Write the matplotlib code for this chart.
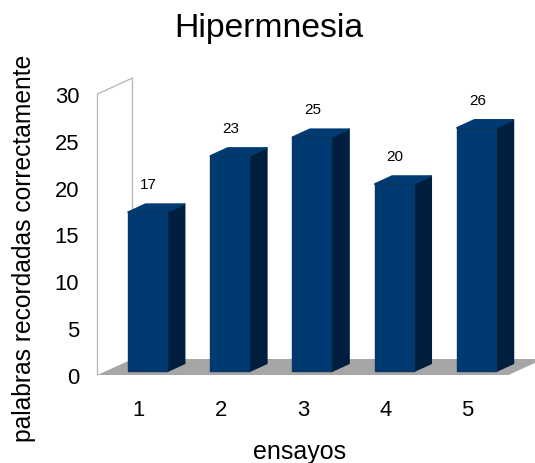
import matplotlib
matplotlib.use("Agg")
import matplotlib.pyplot as plt
from matplotlib.patches import Polygon

plt.rcParams["font.family"] = ["Liberation Sans", "DejaVu Sans"]

W, H = 535, 464
trials = [1, 2, 3, 4, 5]
words = [17, 23, 25, 20, 26]
y_ticks = [0, 5, 10, 15, 20, 25, 30]

FRONT = "#003a72"
SIDE = "#001f3e"
EDGE = "#0b3560"
FLOOR = "#a6a6a6"
WALL = "#b4b4b4"

fig = plt.figure(figsize=(W / 100, H / 100), dpi=100)
ax = fig.add_axes([97.5 / W, 1 - 376 / H, 411 / W, 281 / H])
ax.set_xlim(0.5, 5.5)
ax.set_ylim(0, 30)

# Pixel sizes expressed in data units, for the oblique depth of the scene
ux = 5 / 411
uy = 30 / 281
room_dx, room_dy = 35 * ux, 16 * uy
bar_w = 39 * ux
bar_dx, bar_dy = 17.5 * ux, 8 * uy
shift_x, shift_y = 9 * ux, 3.6 * uy

# Back wall outline and floor
ax.plot([0.5, 0.5, 0.5 + room_dx, 0.5 + room_dx],
        [0, 30, 30 + room_dy, room_dy],
        color=WALL, lw=0.9, clip_on=False, zorder=1)
ax.add_patch(Polygon([(0.5, 0), (0.5 + room_dx, room_dy),
                      (5.5 + room_dx, room_dy), (5.5, 0)],
                     closed=True, facecolor=FLOOR, edgecolor="none",
                     clip_on=False, zorder=2))

# Extruded bars
for i, (t, v) in enumerate(zip(trials, words)):
    x0 = t + shift_x - bar_w / 2
    x1 = x0 + bar_w
    y0 = shift_y
    y1 = shift_y + v
    z = 3 + i
    ax.add_patch(Polygon([(x1, y0), (x1 + bar_dx, y0 + bar_dy),
                          (x1 + bar_dx, y1 + bar_dy), (x1, y1)],
                         closed=True, facecolor=SIDE, edgecolor=SIDE,
                         lw=1.2, joinstyle="round", clip_on=False, zorder=z))
    ax.add_patch(Polygon([(x0, y1), (x0 + bar_dx, y1 + bar_dy),
                          (x1 + bar_dx, y1 + bar_dy), (x1, y1)],
                         closed=True, facecolor=FRONT, edgecolor=FRONT,
                         lw=1.2, joinstyle="round", clip_on=False, zorder=z))
    ax.bar(t + shift_x, v, width=bar_w, bottom=y0, color=FRONT,
           edgecolor=EDGE, lw=1.0, joinstyle="round", clip_on=False,
           zorder=z + 0.5)
    ax.annotate(str(v), xy=(t, v), xytext=(7.2, 23), textcoords="offset points",
                ha="center", va="center", fontsize=11, color="black",
                zorder=20)

for side in ax.spines.values():
    side.set_visible(False)
ax.patch.set_visible(False)
ax.set_xticks(trials)
ax.set_yticks(y_ticks)
ax.tick_params(axis="both", length=0, labelsize=15.8, colors="black")
ax.tick_params(axis="x", pad=17)
ax.tick_params(axis="y", pad=13.2)

fig.text(268.5 / W, 1 - 29 / H, "Hipermnesia", ha="center", va="center",
         fontsize=24.3, color="black")
fig.text(300 / W, 1 - 452.5 / H, "ensayos", ha="center", va="center",
         fontsize=18, color="black")
fig.text(24 / W, 1 - 248 / H, "palabras recordadas correctamente", rotation=90,
         ha="center", va="center", fontsize=17.7, color="black")

fig.savefig("out.png", dpi=100, facecolor="white")
